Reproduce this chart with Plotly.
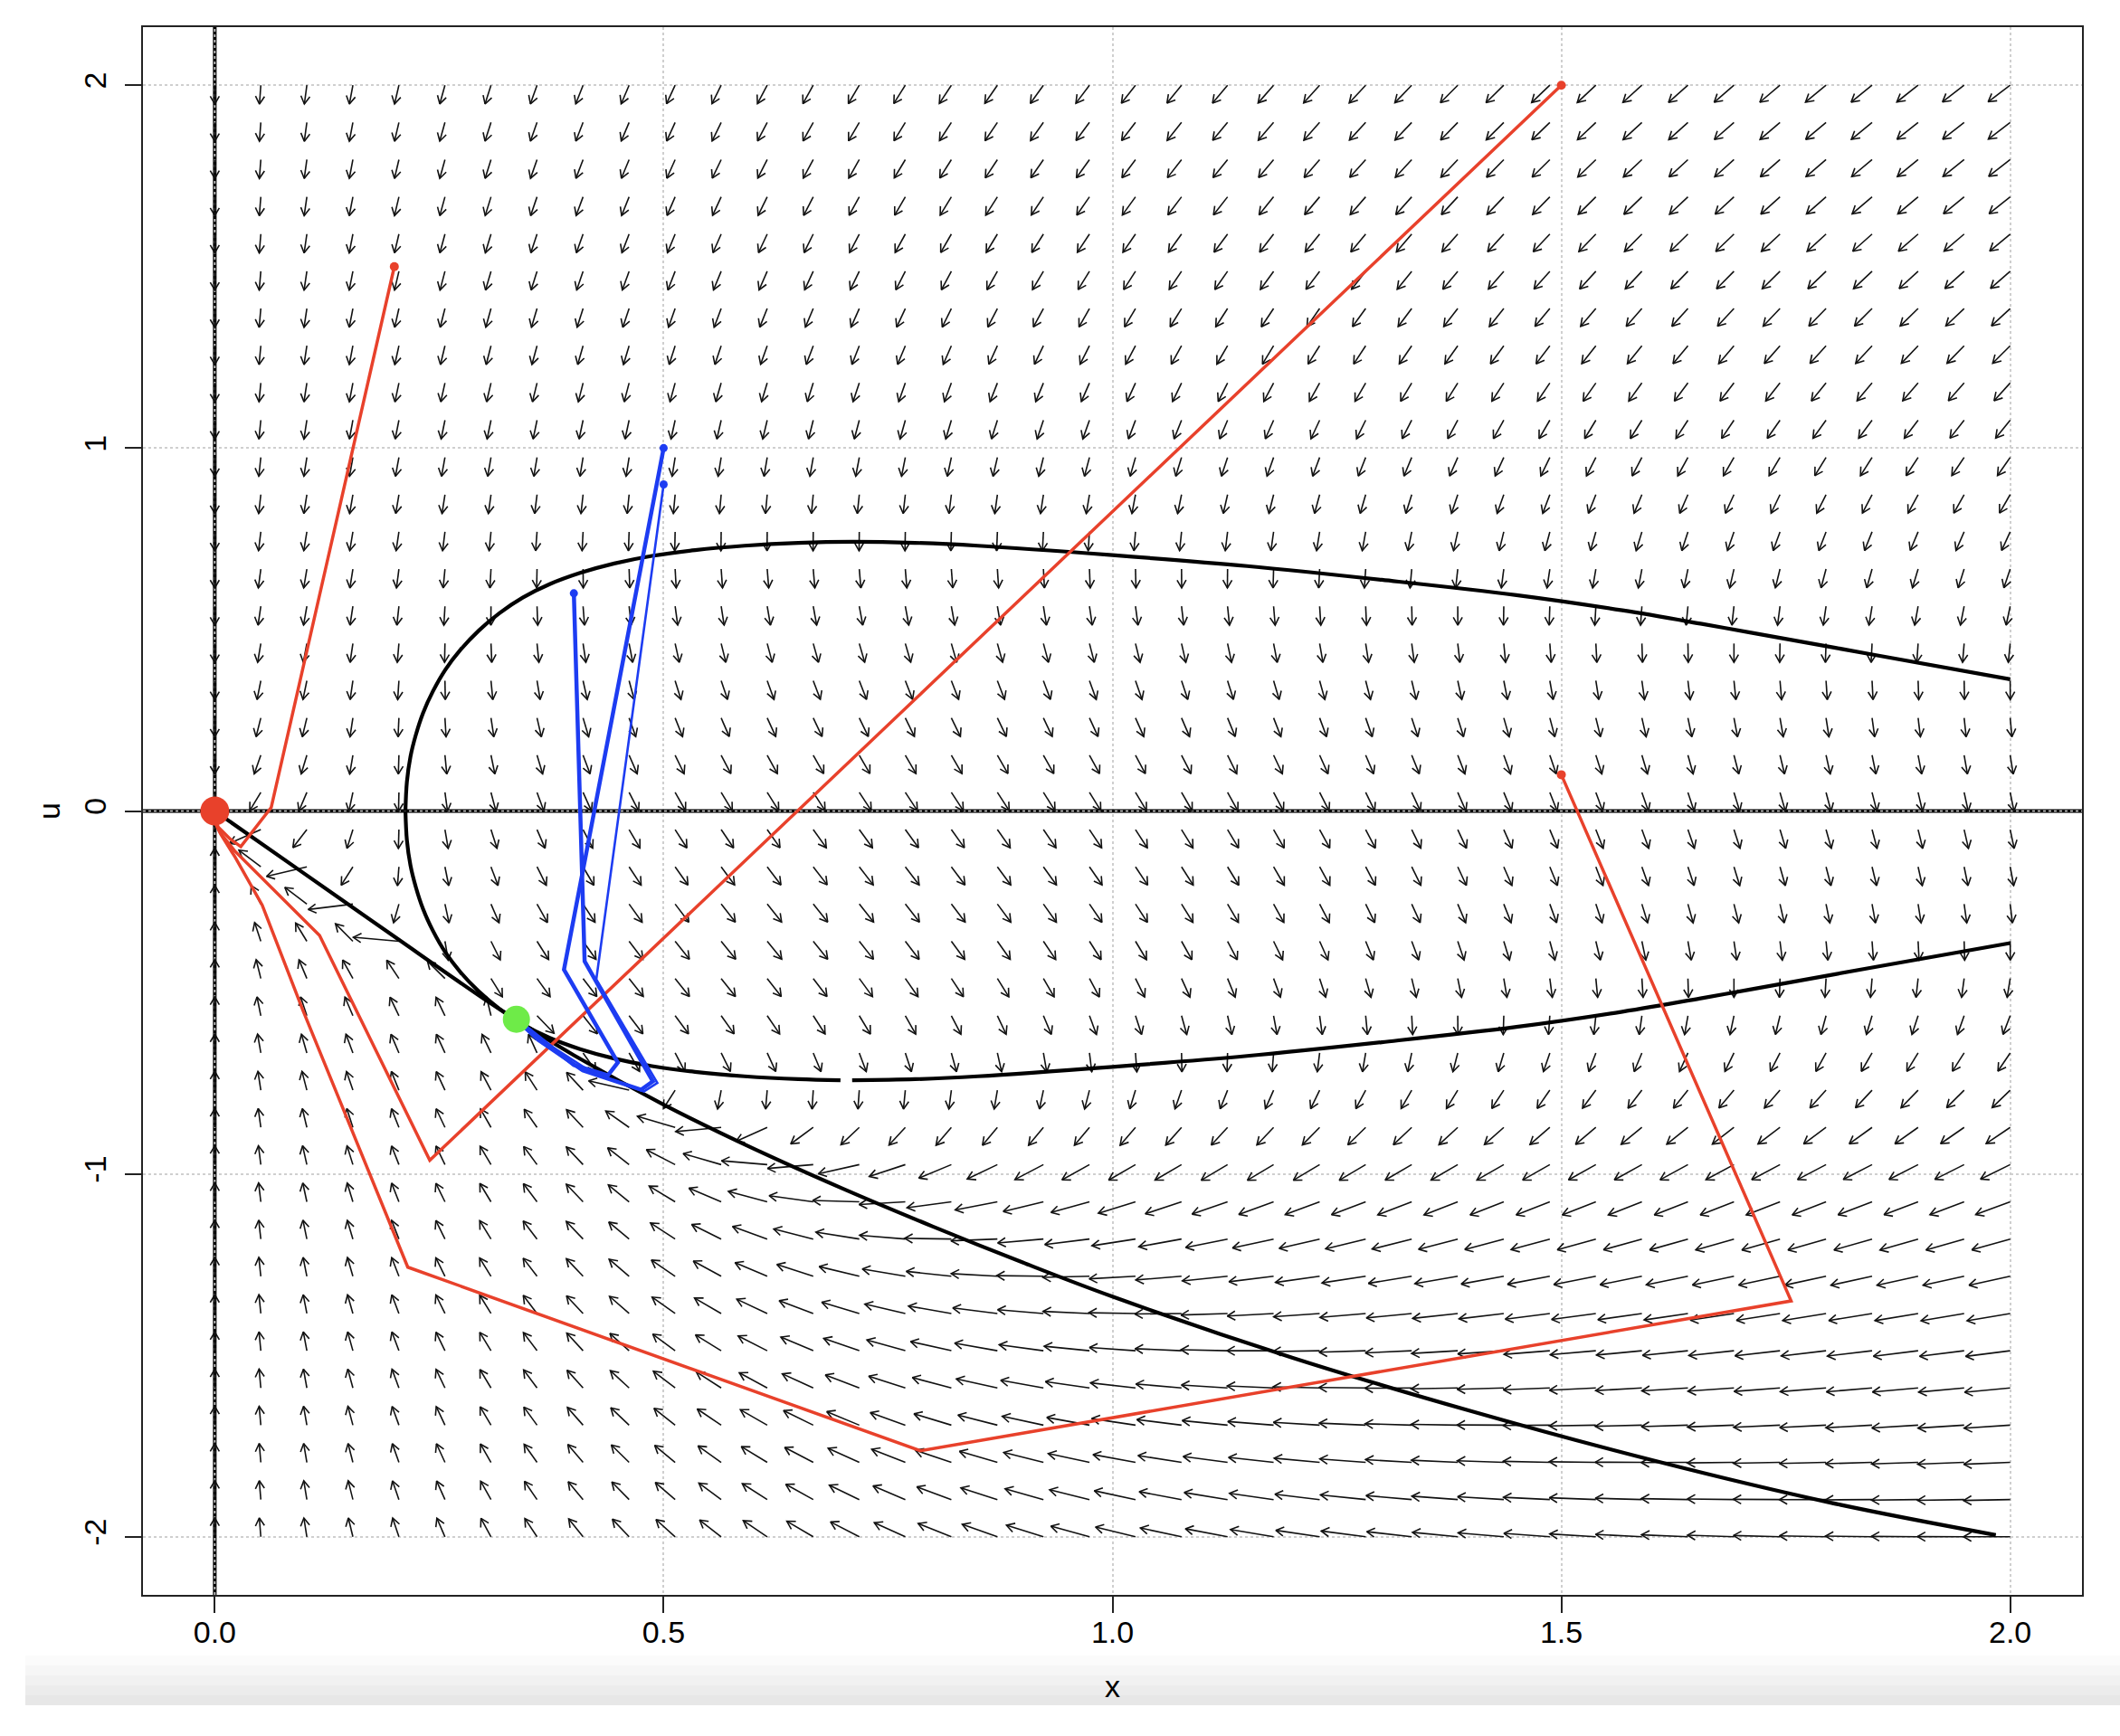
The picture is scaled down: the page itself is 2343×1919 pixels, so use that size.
import numpy as np
import plotly.graph_objects as go

# -----------------------------------------------------------
# Data
# -----------------------------------------------------------

# direction field grid (40 x 40 points)
field_x_lim = [0.0, 2.0]
field_u_lim = [-2.0, 2.0]
field_points = 40

# growth part of the map (parameters fitted by eye)
growth_scale = 1.143
allee_x = 0.211
growth_lin = 1.111
growth_quad = 0.1864
u_rate = 0.8

# x-nullcline (loop-shaped black curve): upper branch right->left, then lower branch left->right
loop_upper_x = [2.0, 1.845, 1.71, 1.658, 1.568, 1.45, 1.3, 1.15, 1.0, 0.85, 0.78, 0.71,
                0.65, 0.59, 0.535, 0.487, 0.445, 0.407, 0.373, 0.343, 0.317, 0.294, 0.274,
                0.257, 0.243, 0.232, 0.224, 0.218, 0.214, 0.2124]
loop_upper_u = [0.363, 0.432, 0.492, 0.515, 0.553, 0.595, 0.637, 0.675, 0.705, 0.731, 0.739, 0.742,
                0.739, 0.731, 0.719, 0.703, 0.682, 0.656, 0.625, 0.588, 0.545, 0.497, 0.445,
                0.39, 0.33, 0.27, 0.21, 0.15, 0.08, 0.0]
loop_lower_x = [0.2124, 0.214, 0.218, 0.224, 0.232, 0.243, 0.257, 0.274, 0.294, 0.317, 0.343,
                0.373, 0.407, 0.445, 0.487, 0.535, 0.59, 0.65, 0.697, None, 0.710, 0.78, 0.85,
                1.0, 1.15, 1.3, 1.45, 1.568, 1.658, 1.71, 1.845, 2.0]
loop_lower_u = [0.0, -0.08, -0.15, -0.21, -0.27, -0.33, -0.39, -0.445, -0.497, -0.545, -0.588,
                -0.625, -0.656, -0.682, -0.703, -0.719, -0.731, -0.739, -0.742, None, -0.742, -0.739, -0.731,
                -0.705, -0.675, -0.637, -0.595, -0.553, -0.515, -0.492, -0.432, -0.364]

# u-nullcline (black curve through both equilibria)
diag_x = [0.0, 0.1, 0.2, 0.3, 0.336, 0.4, 0.5, 0.6, 0.7, 0.8, 0.9, 1.0, 1.2, 1.4, 1.6, 1.8, 1.984]
diag_u = [0.0, -0.173, -0.346, -0.518, -0.576, -0.673, -0.809, -0.930, -1.041, -1.145, -1.244,
          -1.338, -1.506, -1.654, -1.788, -1.906, -1.995]

# red trajectories (iterates of the map)
red1_x = [1.5, 0.2395, 0.1167, 0.0625, 0.0222, 0.006, 0.0]
red1_u = [2.0, -0.9625, -0.343, -0.21, -0.11, -0.06, -0.03]
red2_x = [1.5, 1.756, 0.786, 0.215, 0.098, 0.0528, 0.0226, 0.007, 0.0]
red2_u = [0.1, -1.35, -1.763, -1.257, -0.548, -0.259, -0.127, -0.065, -0.03]
red3_x = [0.2, 0.0629, 0.029, 0.0171, 0.004, 0.0]
red3_u = [1.5, 0.01, -0.098, -0.077, -0.045, -0.02]

# blue trajectories
blue1_x = [0.5, 0.389, 0.449, 0.438, 0.40, 0.36, 0.336]
blue1_u = [1.0, -0.437, -0.693, -0.728, -0.70, -0.62, -0.574]
blue2_x = [0.5, 0.425, 0.493, 0.478, 0.42, 0.37, 0.336]
blue2_u = [0.9, -0.464, -0.749, -0.773, -0.72, -0.64, -0.574]
blue3_x = [0.4, 0.412, 0.488, 0.475, 0.41, 0.36, 0.336]
blue3_u = [0.6, -0.414, -0.745, -0.768, -0.715, -0.63, -0.574]

# equilibria
eq_origin = (0.0, 0.0)
eq_green = (0.336, -0.574)

# tick labels
x_ticks = [0.0, 0.5, 1.0, 1.5, 2.0]
x_tick_text = ["0.0", "0.5", "1.0", "1.5", "2.0"]
u_ticks = [-2, -1, 0, 1, 2]
u_tick_text = ["-2", "-1", "0", "1", "2"]

# -----------------------------------------------------------
# Layout geometry
# -----------------------------------------------------------
W, H = 2343, 1919
M_L, M_R, M_T, M_B = 158, 42, 30, 156
X_RANGE = [-0.08, 2.08]
U_RANGE = [-2.16, 2.16]
SX = (W - M_L - M_R) / (X_RANGE[1] - X_RANGE[0])   # px per x unit
SU = (H - M_T - M_B) / (U_RANGE[1] - U_RANGE[0])   # px per u unit

RED = "#E8412B"
BLUE = "#1D3CF2"
GREEN = "#6EEB48"


def map_step(x, u):
    """Displacement of the map at (x, u)."""
    with np.errstate(divide="ignore", invalid="ignore"):
        r = growth_scale * np.log(np.where(x > 0, x, 1.0) / allee_x) * np.exp(-growth_lin * x - growth_quad * x ** 2)
        dx = np.where(x > 0, x * (np.exp(0.5 * r - 0.5 * u ** 2) - 1.0), 0.0)
    # u relaxes towards the u-nullcline drawn above
    n = np.interp(x, diag_x, diag_u)
    du = -u_rate * (u - n)
    return dx, du


def field_arrows(arrow_len=0.052, head_px=10.0, head_deg=30.0):
    xs = np.linspace(field_x_lim[0], field_x_lim[1], field_points)
    us = np.linspace(field_u_lim[0], field_u_lim[1], field_points)
    X, U = np.meshgrid(xs, us)
    dx, du = map_step(X, U)
    mag = np.hypot(dx, du)
    vx = arrow_len * dx / mag
    vu = arrow_len * du / mag
    px, py = [], []
    a = np.radians(head_deg)
    for x0, u0, ax, au in zip(X.ravel(), U.ravel(), vx.ravel(), vu.ravel()):
        tx, tu = x0 + ax, u0 + au
        ex, ey = ax * SX, -au * SU
        el = np.hypot(ex, ey)
        ex, ey = -ex / el, -ey / el
        b1 = (ex * np.cos(a) - ey * np.sin(a), ex * np.sin(a) + ey * np.cos(a))
        b2 = (ex * np.cos(a) + ey * np.sin(a), -ex * np.sin(a) + ey * np.cos(a))
        px += [x0, tx, None,
               tx + b1[0] * head_px / SX, tx, tx + b2[0] * head_px / SX, None]
        py += [u0, tu, None,
               tu - b1[1] * head_px / SU, tu, tu - b2[1] * head_px / SU, None]
    return px, py


fig = go.Figure()

# zero lines: thick black with light dots on top
fig.add_trace(go.Scatter(x=[0, 0], y=U_RANGE, mode="lines",
                         line=dict(color="black", width=4), hoverinfo="skip"))
fig.add_trace(go.Scatter(x=X_RANGE, y=[0, 0], mode="lines",
                         line=dict(color="black", width=4), hoverinfo="skip"))
fig.add_trace(go.Scatter(x=[0, 0, None, X_RANGE[0], X_RANGE[1]], y=[U_RANGE[0], U_RANGE[1], None, 0, 0],
                         mode="lines", line=dict(color="#d8d8d8", width=1.6, dash="dot"),
                         hoverinfo="skip"))

# direction field
ax_x, ax_u = field_arrows()
fig.add_trace(go.Scatter(x=ax_x, y=ax_u, mode="lines",
                         line=dict(color="#111111", width=1.6), hoverinfo="skip"))

# nullclines
for cx, cu in [(loop_upper_x, loop_upper_u), (loop_lower_x, loop_lower_u), (diag_x, diag_u)]:
    fig.add_trace(go.Scatter(x=cx, y=cu, mode="lines", connectgaps=False,
                             line=dict(color="black", width=4.2, shape="spline", smoothing=1.0),
                             hoverinfo="skip"))

# trajectories
for tx, tu in [(red1_x, red1_u), (red2_x, red2_u), (red3_x, red3_u)]:
    fig.add_trace(go.Scatter(x=tx, y=tu, mode="lines",
                             line=dict(color=RED, width=3.5), hoverinfo="skip"))
    fig.add_trace(go.Scatter(x=[tx[0]], y=[tu[0]], mode="markers",
                             marker=dict(color=RED, size=10), hoverinfo="skip"))
for tx, tu, w in [(blue1_x, blue1_u, 4.5), (blue2_x, blue2_u, 2.6), (blue3_x, blue3_u, 4.5)]:
    fig.add_trace(go.Scatter(x=tx, y=tu, mode="lines",
                             line=dict(color=BLUE, width=w), hoverinfo="skip"))
    fig.add_trace(go.Scatter(x=[tx[0]], y=[tu[0]], mode="markers",
                             marker=dict(color=BLUE, size=9), hoverinfo="skip"))

# equilibria
fig.add_trace(go.Scatter(x=[eq_origin[0]], y=[eq_origin[1]], mode="markers",
                         marker=dict(color=RED, size=32), hoverinfo="skip"))
fig.add_trace(go.Scatter(x=[eq_green[0]], y=[eq_green[1]], mode="markers",
                         marker=dict(color=GREEN, size=30), hoverinfo="skip"))

font = dict(family="Liberation Sans, Arial, sans-serif", size=34, color="black")
axis_common = dict(
    showline=True, mirror=True, linecolor="#222222", linewidth=2,
    ticks="outside", ticklen=18, tickwidth=1.5, tickcolor="#222222",
    showgrid=True, gridcolor="#cfcfcf", gridwidth=1.5, griddash="dot",
    zeroline=False, layer="above traces", tickfont=font,
)

fig.update_layout(
    width=W, height=H,
    margin=dict(l=M_L, r=M_R, t=M_T, b=M_B),
    paper_bgcolor="white", plot_bgcolor="white",
    showlegend=False,
    font=font,
    xaxis=dict(range=X_RANGE, tickvals=x_ticks, ticktext=x_tick_text, ticklabelstandoff=-8,
               title=dict(text="x", font=font, standoff=30), **axis_common),
    yaxis=dict(range=U_RANGE, tickvals=u_ticks, ticktext=u_tick_text, tickangle=-90,
               ticklabelstandoff=7,
               title=dict(text="u", font=font, standoff=10), **axis_common),
)

# light band at the bottom of the page
for i, g in enumerate(["#fbfbfb", "#f6f6f6", "#f1f1f1", "#ececec", "#e7e7e7"]):
    y0 = -(1830 + i * 11 - (H - M_B)) / (H - M_T - M_B)
    fig.add_shape(type="rect", xref="paper", yref="paper", layer="below",
                  x0=-(M_L - 28) / (W - M_L - M_R), x1=1 + M_R / (W - M_L - M_R),
                  y0=y0 - 11 / (H - M_T - M_B), y1=y0,
                  fillcolor=g, line=dict(width=0))

fig.write_html("out.html", config={"displayModeBar": False},
               post_script="document.body.style.margin='0';")
